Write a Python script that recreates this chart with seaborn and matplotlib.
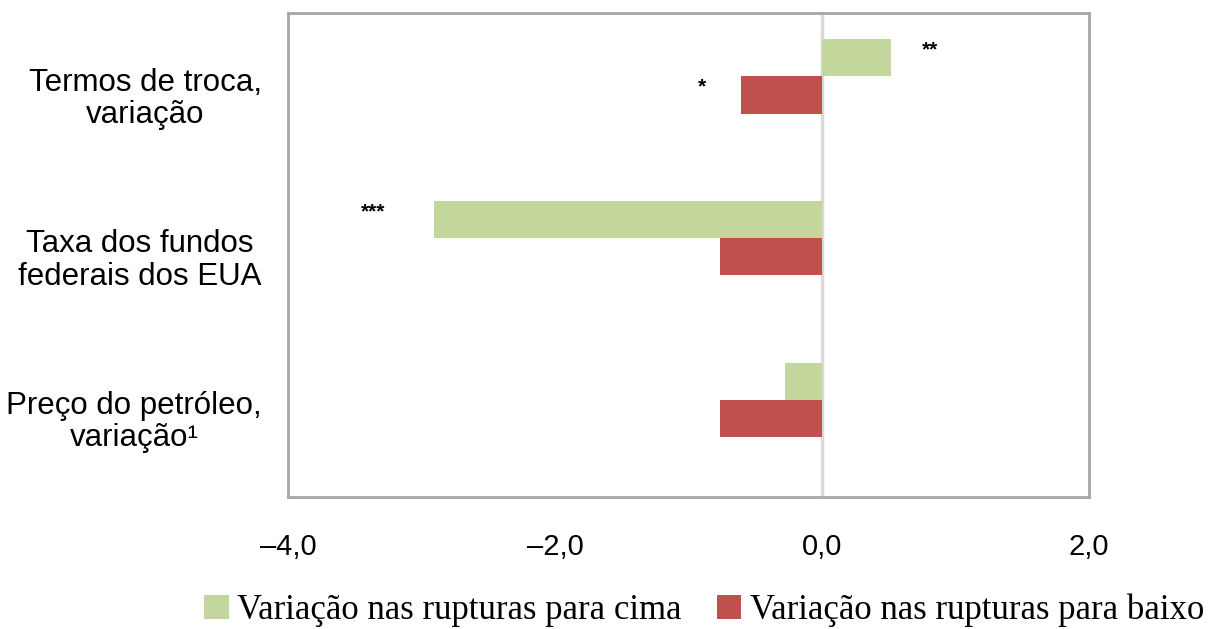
import pandas as pd
import numpy as np
import matplotlib.pyplot as plt
import seaborn as sns
from matplotlib.ticker import FuncFormatter

categorias = ['Termos de troca,\nvariação', 'Taxa dos fundos\nfederais dos EUA',
              'Preço do petróleo,\nvariação¹']
series = ['Variação nas rupturas para cima', 'Variação nas rupturas para baixo']
para_cima = [0.52, -2.91, -0.28]
para_baixo = [-0.61, -0.76, -0.76]
# asteriscos de significancia: (categoria, serie, x, texto)
asteriscos = [(0, 0, 0.81, '**'), (0, 1, -0.90, '*'), (1, 0, -3.36, '***')]
cores = ['#C3D69B', '#C0504D']

df = pd.DataFrame({
    'Categoria': categorias * 2,
    'Serie': [series[0]] * 3 + [series[1]] * 3,
    'Valor': para_cima + para_baixo,
})

sns.set_style('white')
plt.rcParams['font.family'] = ['Liberation Sans', 'DejaVu Sans']

fig = plt.figure(figsize=(12.17, 6.29), dpi=100)
ax = fig.add_axes([0.2367, 0.2099, 0.658, 0.7691])

sns.barplot(data=df, y='Categoria', x='Valor', hue='Serie', hue_order=series,
            order=categorias, palette=cores, width=0.46, orient='h',
            errorbar=None, ax=ax, legend=True, saturation=1, linewidth=0)

ax.axvline(0, color='#D9D9D9', lw=2.5, zorder=0.5)
ax.set_xlim(-4, 2)
ax.set_ylim(2.6, -0.39)
ax.set_xticks([-4, -2, 0, 2])
ax.xaxis.set_major_formatter(FuncFormatter(
    lambda v, p: f'{v:.1f}'.replace('.', ',').replace('-', '–')))
# rotulos das categorias um pouco abaixo do centro, como no original
ax.set_yticks(np.arange(len(categorias)) + 0.11, categorias)
ax.set_xlabel('')
ax.set_ylabel('')
ax.tick_params(axis='x', length=0, pad=26, labelsize=21, labelcolor='black')
ax.tick_params(axis='y', length=0, pad=19, labelsize=22.5, labelcolor='black')
for t in ax.get_yticklabels():
    t.set_multialignment('center')
    t.set_linespacing(1.1)

for s in ax.spines.values():
    s.set_color('#A6A6A6')
    s.set_linewidth(2)

bar_h = 0.46 / 2
for cat, ser, xv, txt in asteriscos:
    yv = cat + (ser - 0.5) * bar_h - 0.05
    ax.text(xv, yv, txt, ha='center', va='center', fontsize=15,
            fontweight='bold', color='black')

handles, labels = ax.get_legend_handles_labels()
ax.legend_.remove()
fig.legend(handles, labels, loc='center left', bbox_to_anchor=(0.168, 0.03),
           ncol=2, frameon=False, handlelength=0.7, handleheight=0.7,
           handletextpad=0.25, columnspacing=1.0, borderpad=0, borderaxespad=0,
           labelcolor='black', prop={'family': 'Liberation Serif', 'size': 25})

fig.savefig('out.png', dpi=100)
